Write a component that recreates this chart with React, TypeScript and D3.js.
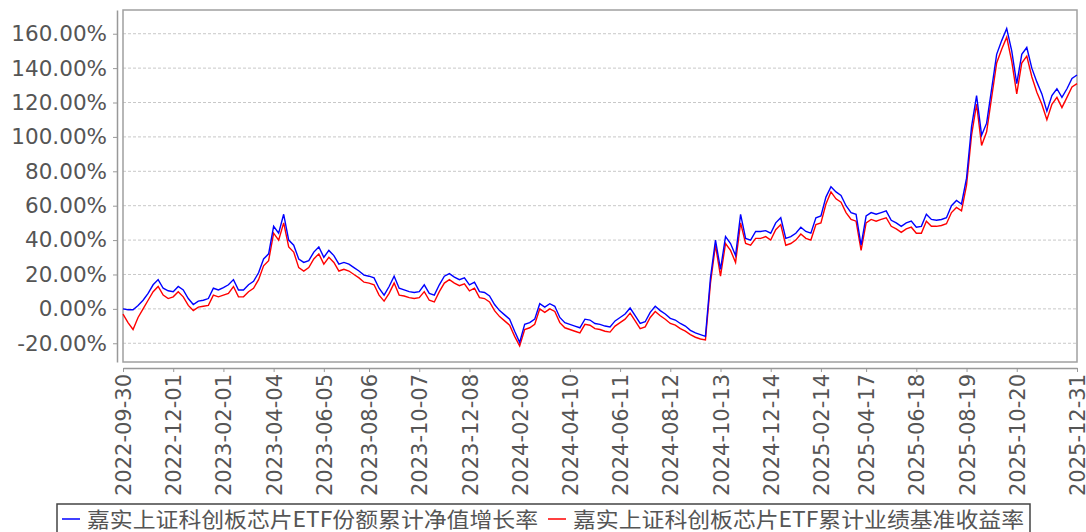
import React, { useEffect, useRef } from "react";
import * as d3 from "d3";

// x tick labels and the sample index each one sits on
const tickLabels = [
  "2022-09-30", "2022-12-01", "2023-02-01", "2023-04-04", "2023-06-05",
  "2023-08-06", "2023-10-07", "2023-12-08", "2024-02-08", "2024-04-10",
  "2024-06-11", "2024-08-12", "2024-10-13", "2024-12-14", "2025-02-14",
  "2025-04-17", "2025-06-18", "2025-08-19", "2025-10-20", "2025-12-31",
];
const tickIdx = [0, 10, 20, 30, 40, 49, 59, 69, 79, 89, 99, 109, 119, 129, 139, 148, 158, 168, 178, 190];

const yTicks = [-20, 0, 20, 40, 60, 80, 100, 120, 140, 160];

const seriesNames = [
  "嘉实上证科创板芯片ETF份额累计净值增长率",
  "嘉实上证科创板芯片ETF累计业绩基准收益率",
];

// 份额累计净值增长率 (%)
const navGrowth = [
  0, -0.5, -0.5, 2, 5, 9, 14, 17, 12, 10.5,
  10, 13, 11, 6, 2.5, 4.5, 5, 6, 12, 11,
  12.4, 14, 17, 11, 11, 14, 16, 21, 29, 32,
  48, 44, 55, 40, 37, 29, 27, 28, 33, 36,
  30, 34, 31, 26, 27, 26, 24, 22, 19.6, 19,
  18, 12, 8, 13, 19, 12, 11, 10, 9.5, 10,
  14, 9, 8, 14, 19, 20.5, 18.5, 17, 18, 14,
  15.5, 10, 9.5, 7.5, 2.5, -1, -3.5, -6, -13, -19.5,
  -9, -8, -6, 3, 1, 3, 1.5, -5, -8, -9,
  -10, -11, -6, -6.5, -8.5, -9, -10, -10.5, -7, -5,
  -3, 0.5, -4, -8.5, -7.5, -2, 1.5, -1, -3, -5.5,
  -6.5, -8.5, -10, -12.5, -14, -15, -16, 18, 40, 23,
  42, 38, 31, 55, 41, 40, 45, 45, 45.5, 44,
  50, 53, 41, 42, 44, 47.5, 45, 44, 53, 54,
  65, 71, 68, 66, 60, 56, 55, 37, 54, 56,
  55, 56, 57, 51.5, 50, 48, 50, 51, 47.5, 48,
  55, 52, 51.5, 52, 53, 60, 63, 61, 76, 106,
  124, 101, 108, 128, 148, 156, 163, 150, 131, 148,
  152, 140, 132, 125, 115, 124, 128, 123, 128, 134, 136,
];

// 累计业绩基准收益率 (%)
const benchReturn = [
  -3, -8, -12, -5, 0, 5, 10, 13, 8, 6,
  7, 10, 7, 2, -1, 1, 1.5, 2, 8, 7,
  8, 9, 13, 7, 7, 10, 12, 17, 25, 28,
  44, 40, 50, 36, 33, 24, 22, 24, 29, 32,
  26, 30, 27, 22, 23, 22, 20, 18, 15.5, 15,
  14, 8, 4.5, 9, 15, 8, 7.5, 6.5, 6, 6.5,
  10, 5, 4, 10, 15, 17, 15, 13.5, 14.5, 10.5,
  12, 6.5, 6, 4, -1, -4.5, -7, -9.5, -16, -21.5,
  -12, -11, -9, 0, -2, 0, -1.5, -8, -11, -12,
  -13, -14, -9, -9.5, -11.5, -12, -13, -13.5, -10, -8,
  -6, -2.5, -7, -11.5, -10.5, -5, -1.5, -4, -6, -8.5,
  -9.5, -11.5, -13, -15, -16.5, -17.5, -18, 15, 37, 19,
  38, 34, 27, 50, 38, 37, 41, 41, 42, 40,
  46, 49, 37, 38, 40, 43.5, 41, 40, 49, 50,
  61, 68, 64, 62, 56, 52, 51, 34, 50, 52,
  51, 52, 53, 48, 46.5, 44.5, 46.5, 47.5, 44, 44,
  51, 48, 48, 48.5, 49.5, 56, 59, 57, 72, 101,
  119, 95, 103, 123, 143, 151, 158, 144, 125, 143,
  147, 135, 126, 119, 110, 119, 123, 117, 123, 129, 131,
];

const font = "'DejaVu Sans', sans-serif";
const textColor = "#555";

export default function App() {
  const ref = useRef<SVGSVGElement>(null);

  useEffect(() => {
    document.body.style.margin = "0";
    const svg = d3.select(ref.current);
    svg.selectAll("*").remove();

    const left = 123, right = 1077, top = 10, bottom = 362;

    const x = d3.scaleLinear().domain([0, navGrowth.length - 1]).range([left, right]);
    const y = d3.scaleLinear().domain([-30.9, 173.8]).range([bottom, top]);

    // grid lines
    svg.append("g")
      .selectAll("line")
      .data(yTicks)
      .join("line")
      .attr("x1", left)
      .attr("x2", right)
      .attr("y1", (d) => y(d))
      .attr("y2", (d) => y(d))
      .attr("stroke", "#c8c8c8")
      .attr("stroke-dasharray", "3,2");

    // plot frame
    svg.append("rect")
      .attr("x", left)
      .attr("y", top)
      .attr("width", right - left)
      .attr("height", bottom - top)
      .attr("fill", "none")
      .attr("stroke", "#a0a0a0")
      .attr("stroke-width", 1.5);

    // y axis, drawn a little left of the frame
    const yAxis = svg.append("g")
      .attr("transform", `translate(117,0)`)
      .call(
        d3.axisLeft(y)
          .tickValues(yTicks)
          .tickFormat((d) => (d as number).toFixed(2) + "%")
          .tickSize(4)
          .tickSizeOuter(0)
          .tickPadding(6)
      );
    yAxis.select(".domain").attr("stroke", "#999").attr("stroke-width", 1.5);
    yAxis.selectAll(".tick line").attr("stroke", "#999");
    yAxis.selectAll("text")
      .attr("fill", textColor)
      .style("font-family", font)
      .style("font-size", "21.5px");

    // x axis below the frame
    const xAxis = svg.append("g")
      .attr("transform", `translate(0,368)`)
      .call(
        d3.axisBottom(x)
          .tickValues(tickIdx)
          .tickFormat((d, i) => tickLabels[i])
          .tickSize(4)
          .tickSizeOuter(0)
      );
    xAxis.select(".domain").attr("stroke", "#999").attr("stroke-width", 1.5);
    xAxis.selectAll(".tick line").attr("stroke", "#999");
    xAxis.selectAll("text")
      .attr("transform", "rotate(-90)")
      .attr("x", -6)
      .attr("y", 0)
      .attr("dy", "0.36em")
      .attr("text-anchor", "end")
      .attr("fill", textColor)
      .style("font-family", font)
      .style("font-size", "21px");

    const line = d3.line<number>()
      .x((d, i) => x(i))
      .y((d) => y(d));

    svg.append("path")
      .datum(benchReturn)
      .attr("d", line)
      .attr("fill", "none")
      .attr("stroke", "#ff0000")
      .attr("stroke-width", 1.4);

    svg.append("path")
      .datum(navGrowth)
      .attr("d", line)
      .attr("fill", "none")
      .attr("stroke", "#0000ff")
      .attr("stroke-width", 1.4);

    // legend
    const legend = svg.append("g");
    legend.append("rect")
      .attr("x", 57)
      .attr("y", 504)
      .attr("width", 973)
      .attr("height", 40)
      .attr("fill", "none")
      .attr("stroke", "#444")
      .attr("stroke-width", 1.5);

    const items = [
      { x: 62, color: "#0000ff", name: seriesNames[0] },
      { x: 548, color: "#ff0000", name: seriesNames[1] },
    ];
    items.forEach((it) => {
      legend.append("line")
        .attr("x1", it.x)
        .attr("x2", it.x + 18)
        .attr("y1", 519)
        .attr("y2", 519)
        .attr("stroke", it.color)
        .attr("stroke-width", 1.5);
      legend.append("text")
        .attr("x", it.x + 25)
        .attr("y", 527)
        .attr("fill", textColor)
        .attr("textLength", 451)
        .attr("lengthAdjust", "spacingAndGlyphs")
        .style("font-family", "'Noto Sans CJK SC', sans-serif")
        .style("font-size", "21px")
        .text(it.name);
    });
  }, []);

  return <svg ref={ref} width={1086} height={532} style={{ display: "block" }} />;
}
